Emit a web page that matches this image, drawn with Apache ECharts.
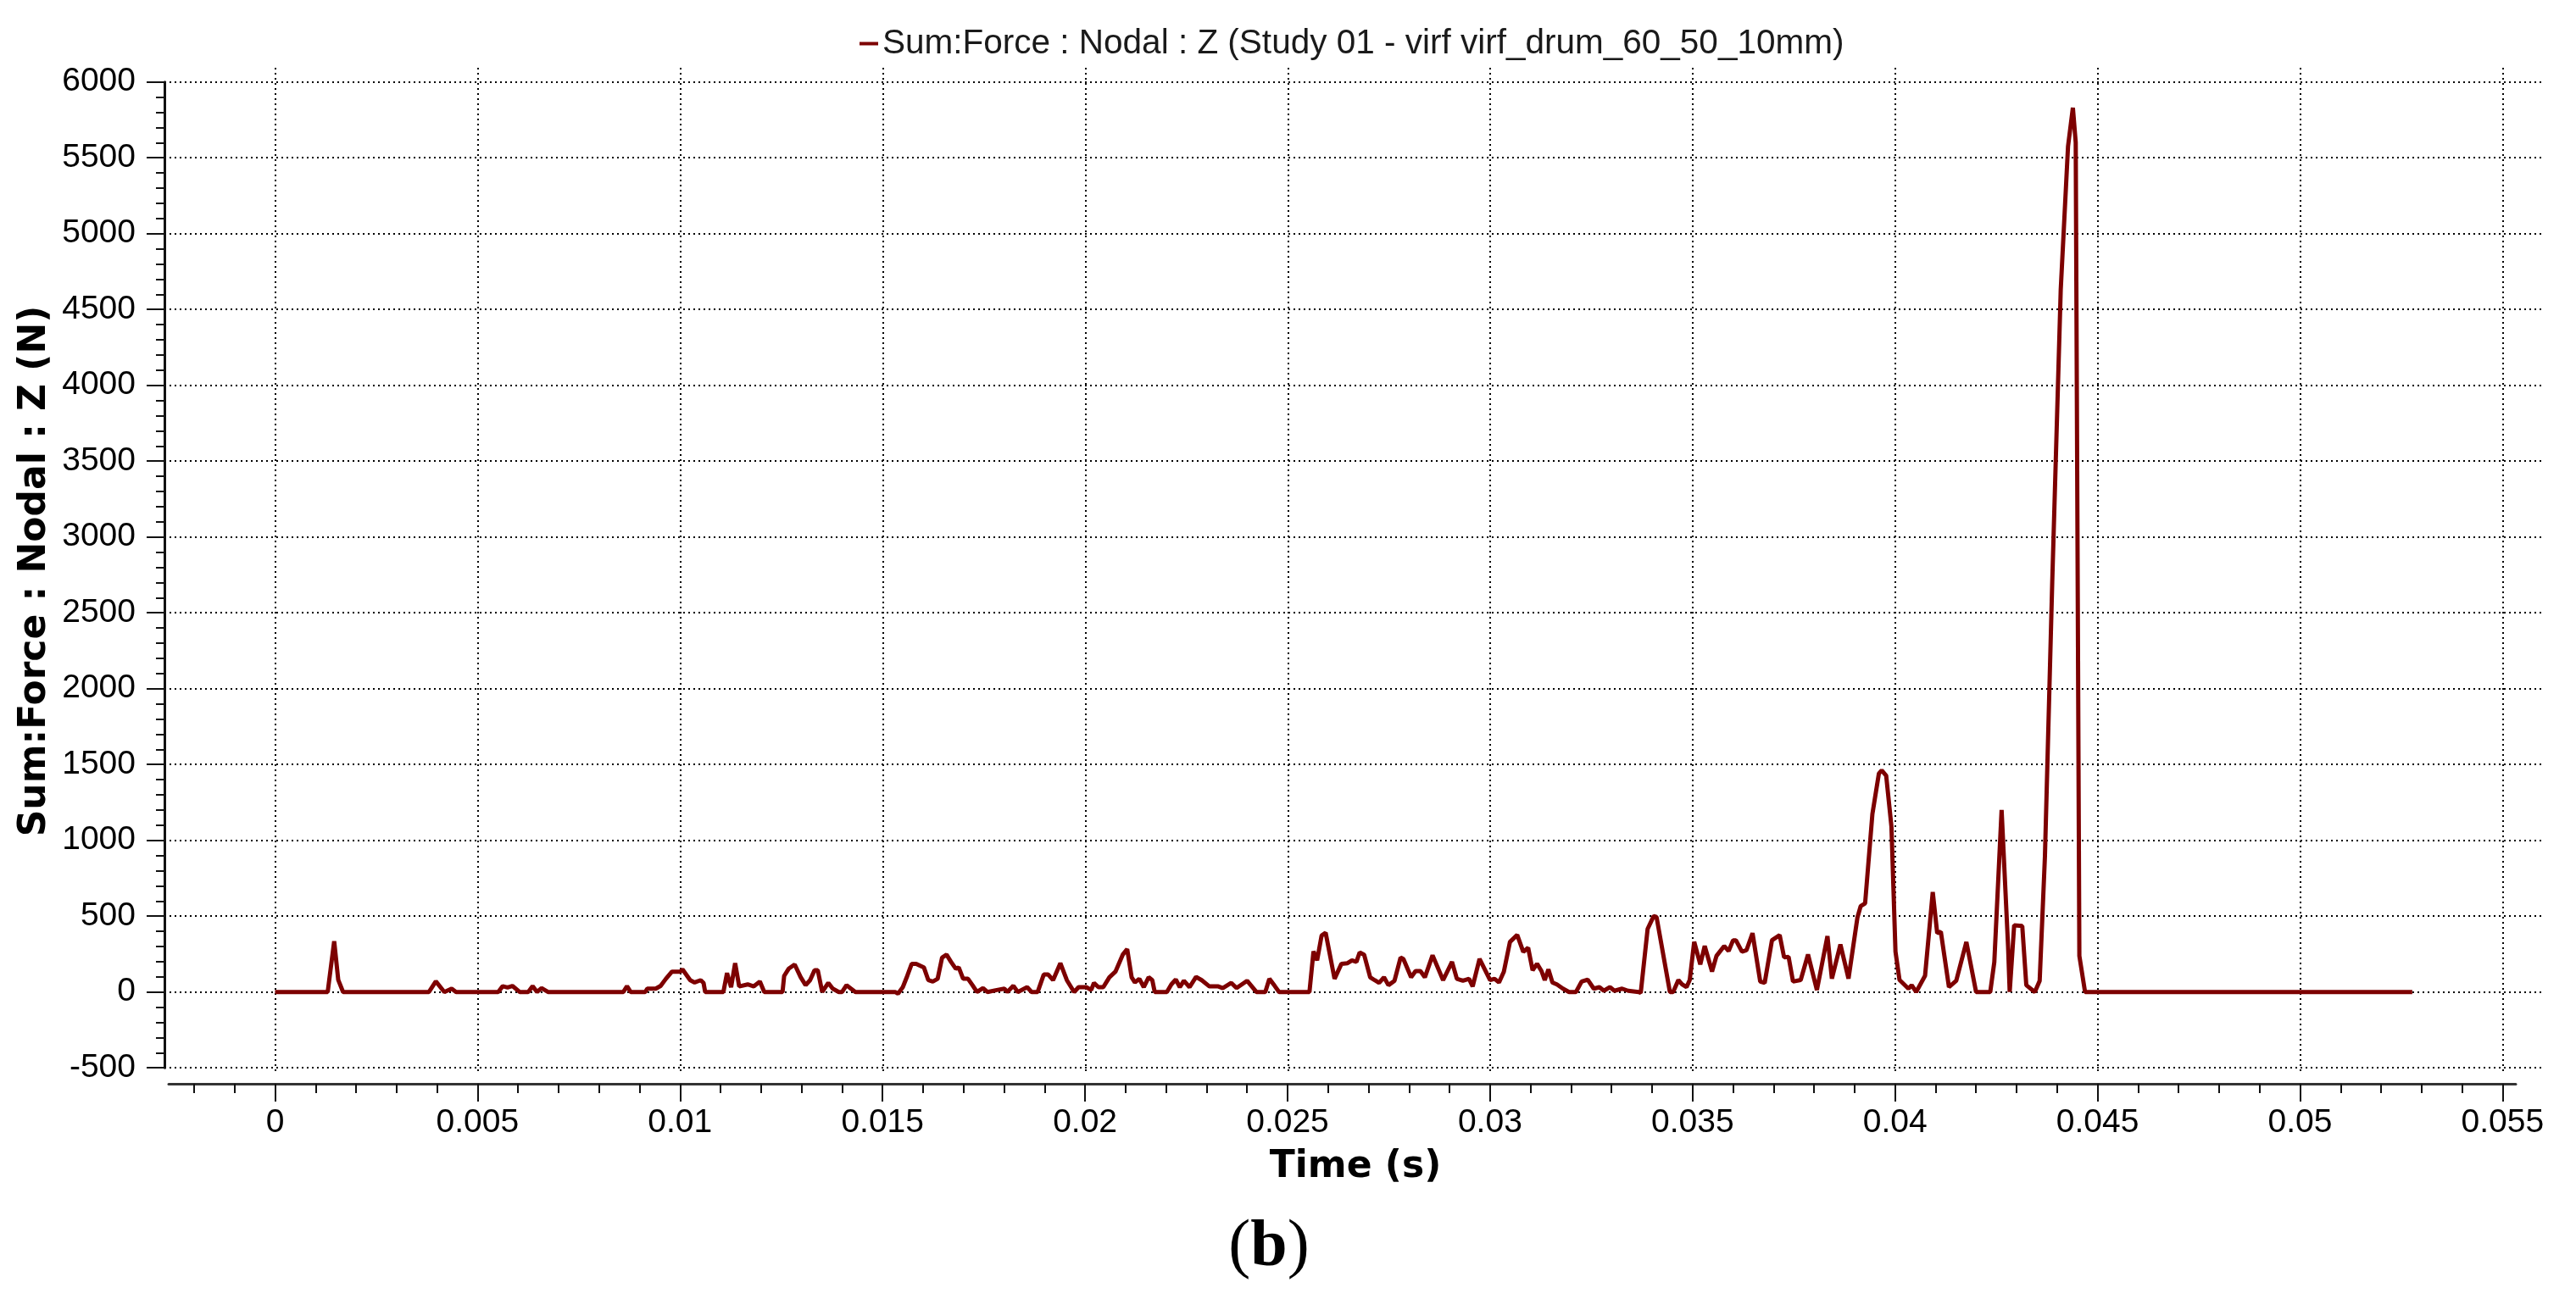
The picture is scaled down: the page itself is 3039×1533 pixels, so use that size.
<!DOCTYPE html>
<html>
<head>
<meta charset="utf-8">
<script src="https://cdn.jsdelivr.net/npm/echarts@6/dist/echarts.min.js"></script>
<style>
html,body{margin:0;padding:0;background:#fff;}
#chart{width:3039px;height:1533px;}
</style>
</head>
<body>
<div id="chart"></div>
<script>
// ---- data ----
const seriesName = 'Sum:Force : Nodal : Z (Study 01 - virf virf_drum_60_50_10mm)';
const timeS = [
0,0.0013,0.00146,0.00156,0.00168,0.0038,0.00397,0.00418,0.00436,0.00447,
0.00551,0.00562,0.00574,0.00586,0.00604,0.00625,0.00636,0.00647,0.00658,0.00674,
0.0086,0.00869,0.00878,0.00914,0.00919,0.0094,0.00952,0.00965,0.0098,0.01,
0.01006,0.01025,0.01036,0.01051,0.01058,0.01062,0.01107,0.01116,0.01126,0.01136,
0.01146,0.01167,0.01182,0.01197,0.01208,0.01253,0.01257,0.01268,0.01283,0.01298,
0.0131,0.01321,0.01332,0.0134,0.01351,0.01366,0.01377,0.01392,0.014,0.01411,
0.01422,0.01433,0.01531,0.01538,0.0155,0.01561,0.01572,0.01583,0.01602,0.01613,
0.01624,0.01636,0.01647,0.01658,0.01669,0.01681,0.01688,0.01699,0.01711,0.01722,
0.01733,0.01748,0.01759,0.01782,0.01801,0.01808,0.01823,0.01834,0.01857,0.01868,
0.01883,0.01898,0.01909,0.01921,0.01939,0.01955,0.01973,0.01984,0.02003,0.02015,
0.02022,0.02033,0.02045,0.0206,0.02075,0.02093,0.02104,0.02115,0.02123,0.02134,
0.02145,0.02157,0.02166,0.02172,0.02202,0.02213,0.02224,0.02234,0.02244,0.02258,
0.02274,0.02288,0.02307,0.02329,0.0234,0.02361,0.02374,0.024,0.02423,0.02445,
0.02455,0.02468,0.02479,0.02554,0.02564,0.02573,0.02584,0.02594,0.02616,0.02633,
0.02648,0.02659,0.0267,0.02678,0.02689,0.02704,0.02715,0.02726,0.02738,0.02749,
0.02764,0.02779,0.02786,0.02805,0.02816,0.02828,0.02839,0.02858,0.02884,0.02906,
0.02918,0.02933,0.02948,0.02957,0.02974,0.03,0.03011,0.03022,0.03034,0.03049,
0.03067,0.03082,0.03094,0.03105,0.03116,0.03127,0.03135,0.03144,0.03154,0.03165,
0.0318,0.03195,0.03212,0.03226,0.03241,0.03256,0.0327,0.03281,0.03296,0.03307,
0.03326,0.03341,0.03367,0.03372,0.03389,0.03404,0.03411,0.03444,0.03452,0.03465,
0.03474,0.03485,0.03493,0.03504,0.03519,0.0353,0.03548,0.03559,0.03578,0.03589,
0.036,0.03607,0.03622,0.03633,0.03648,0.03667,0.03678,0.03696,0.03715,0.03726,
0.03737,0.03748,0.03767,0.03785,0.03807,0.03833,0.03844,0.03865,0.03885,0.03907,
0.03915,0.03926,0.03944,0.0396,0.03967,0.03978,0.03991,0.04001,0.04011,0.04033,
0.04041,0.04052,0.04074,0.04093,0.04104,0.04113,0.04133,0.04151,0.04176,0.042,
0.04235,0.04245,0.04263,0.04279,0.04283,0.04294,0.04314,0.04324,0.04345,0.04357,
0.0437,0.04388,0.04409,0.04427,0.04439,0.04446,0.04455,0.04469,0.05277
];
const forceN = [
0,0,335,80,0,0,70,0,22,0,
0,38,30,40,0,0,38,0,26,0,
0,38,0,0,22,22,40,87,134,134,
149,78,63,78,60,0,0,125,32,190,
37,50,37,69,0,0,106,153,181,97,
45,78,143,143,0,60,22,0,0,45,
22,0,0,-11,32,106,186,186,162,78,
69,87,227,246,199,153,162,87,87,45,
0,26,0,13,22,0,41,0,32,0,
0,115,115,78,190,78,0,32,32,13,
60,32,32,97,134,246,283,97,63,87,
32,97,78,0,0,50,82,32,74,32,
100,78,37,37,26,60,26,74,0,0,
87,41,0,0,268,209,372,391,87,186,
190,209,199,261,246,97,78,60,97,45,
74,227,218,97,138,138,97,242,78,199,
87,74,87,37,218,78,87,63,134,330,
376,264,292,143,186,138,78,149,63,50,
22,0,0,69,82,22,32,8,32,8,
22,8,0,-6,416,500,495,0,0,79,
51,32,79,331,182,303,135,238,303,270,
341,341,266,275,388,69,60,341,375,228,
232,69,79,247,13,369,88,313,88,491,
566,584,1174,1440,1461,1427,1090,266,79,22,
45,0,107,659,388,397,32,74,330,0,
0,197,1200,300,0,440,435,45,0,74,
895,2701,4630,5575,5830,5600,238,0,0
];
const xTickValues = [0,0.005,0.01,0.015,0.02,0.025,0.03,0.035,0.04,0.045,0.05,0.055];
const xTickLabels = ['0','0.005','0.01','0.015','0.02','0.025','0.03','0.035','0.04','0.045','0.05','0.055'];
const yTickLabels = ['-500','0','500','1000','1500','2000','2500','3000','3500','4000','4500','5000','5500','6000'];

// ---- build ----
const points = timeS.map((t, i) => [t, forceN[i]]);
const xMinor = [];
for (let k = -2; k <= 55; k++) { if (k % 5 !== 0) xMinor.push(k / 1000); }

const LABEL_FONT = 'Liberation Sans';
const dotted = { color: '#000', width: 2, type: [2, 4] };

const chart = echarts.init(document.getElementById('chart'), null, { renderer: 'canvas' });
chart.setOption({
  animation: false,
  backgroundColor: '#fff',
  legend: {
    data: [seriesName],
    left: 1014, top: 31, padding: 0,
    icon: 'rect', itemWidth: 22, itemHeight: 4,
    textStyle: { fontFamily: LABEL_FONT, fontSize: 40.5, color: '#1a1a1a' }
  },
  grid: [
    { left: 194, right: 38, top: 80, bottom: 265, outerBoundsMode: 'none' },
    { left: 324.5, right: 86, top: 80, bottom: 265, outerBoundsMode: 'none' },
    { left: 199, right: 71, top: 80, bottom: 254, outerBoundsMode: 'none' },
    { left: 194, right: 38, top: 96.7, bottom: 272.8, outerBoundsMode: 'none' }
  ],
  xAxis: [
    { gridIndex: 0, type: 'value', min: -0.002731, max: 0.056017, show: false },
    { gridIndex: 1, type: 'value', min: 0, max: 0.055, interval: 0.005,
      axisLine: { show: false }, axisTick: { show: false }, axisLabel: { show: false },
      splitLine: { show: true, lineStyle: dotted } },
    { gridIndex: 2, type: 'value', min: -0.0026266, max: 0.055327, position: 'bottom',
      axisLine: { show: true, lineStyle: { color: '#333', width: 3 } },
      axisTick: { show: true, customValues: xTickValues, length: 21, lineStyle: { color: '#111', width: 2 } },
      axisLabel: { show: true, customValues: xTickValues, margin: 27, fontSize: 39, fontFamily: LABEL_FONT, color: '#000',
        formatter: v => { let best = 0; xTickValues.forEach((x, i) => { if (Math.abs(x - v) < Math.abs(xTickValues[best] - v)) best = i; }); return xTickLabels[best]; } },
      splitLine: { show: false } },
    { gridIndex: 2, type: 'value', min: -0.0026266, max: 0.055327, position: 'bottom',
      axisLine: { show: false },
      axisTick: { show: true, customValues: xMinor, length: 11, lineStyle: { color: '#111', width: 2 } },
      axisLabel: { show: false, customValues: xMinor },
      splitLine: { show: false } },
    { gridIndex: 3, type: 'value', min: 0, max: 1, show: false }
  ],
  yAxis: [
    { gridIndex: 0, type: 'value', min: -543.6, max: 6093.3, show: false },
    { gridIndex: 1, type: 'value', min: 0, max: 1, show: false },
    { gridIndex: 2, type: 'value', min: 0, max: 1, show: false },
    { gridIndex: 3, type: 'value', min: -500, max: 6000, interval: 500, position: 'left',
      axisLine: { show: true, lineStyle: { color: '#111', width: 3 } },
      axisTick: { show: true, length: 21, lineStyle: { color: '#111', width: 2 } },
      minorTick: { show: true, splitNumber: 5, length: 10, lineStyle: { color: '#111', width: 2 } },
      axisLabel: { show: true, margin: 34, fontSize: 39, fontFamily: LABEL_FONT, color: '#000',
        formatter: v => yTickLabels[Math.round((v + 500) / 500)] },
      splitLine: { show: true, lineStyle: dotted } }
  ],
  series: [{
    name: seriesName,
    type: 'line',
    xAxisIndex: 0, yAxisIndex: 0,
    data: points,
    symbol: 'none',
    lineStyle: { color: '#7d0000', width: 5 },
    itemStyle: { color: '#7d0000' },
    z: 5
  }],
  graphic: [
    { type: 'text', x: 42, y: 674, rotation: Math.PI / 2, z: 10,
      style: { text: 'Sum:Force : Nodal : Z (N)', fontFamily: 'DejaVu Sans', fontWeight: 'bold', fontSize: 44,
        fill: '#000', align: 'center', verticalAlign: 'middle' } },
    { type: 'text', x: 1599, y: 1378, z: 10,
      style: { text: 'Time (s)', fontFamily: 'DejaVu Sans', fontWeight: 'bold', fontSize: 44,
        fill: '#000', align: 'center', verticalAlign: 'middle' } },
    { type: 'text', x: 1497, y: 1473, z: 10,
      style: { text: '{p|(}{b|b}{p|)}', align: 'center', verticalAlign: 'middle', fill: '#000',
        rich: {
          p: { fontFamily: 'Liberation Serif', fontSize: 78, fill: '#000' },
          b: { fontFamily: 'Liberation Serif', fontSize: 78, fontWeight: 'bold', fill: '#000' }
        } } }
  ]
});
</script>
</body>
</html>
